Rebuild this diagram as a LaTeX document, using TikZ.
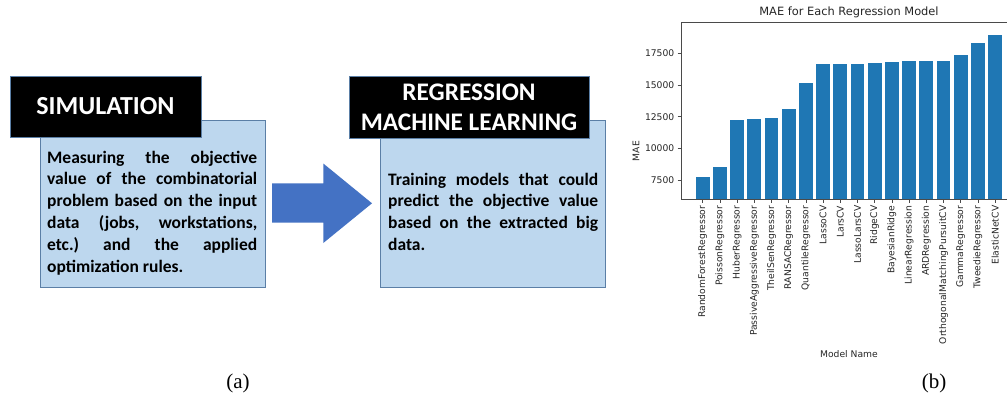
\documentclass[tikz,border=0pt]{standalone}
\usepackage{fontspec}
\setmainfont{Carlito}
\newfontfamily\mplfont{DejaVu Sans}
\newfontfamily\capfont{Liberation Serif}
\definecolor{boxfill}{HTML}{BDD7EE}
\definecolor{boxline}{HTML}{5B7FA6}
\definecolor{arrowblue}{HTML}{4472C4}
\definecolor{mplblue}{HTML}{1F77B4}
\definecolor{spine}{HTML}{4A4A4A}
\newcommand{\jline}[1]{\hbox to 210pt{\frenchspacing\spaceskip=0.25em plus 3em minus 0.05em\xspaceskip=\spaceskip\relax #1}}
\begin{document}
\begin{tikzpicture}[x=1pt,y=-1pt,
  bluebox/.style={draw=boxline, line width=0.9pt, fill=boxfill, inner sep=0pt, outer sep=0pt, anchor=north west},
  blackbox/.style={fill=black, draw=boxline, line width=0.6pt, inner sep=0pt, outer sep=0pt, anchor=north west},
  headtext/.style={text=white, font={\fontsize{26}{30}\selectfont\bfseries}, align=center, inner sep=0pt},
  bodytext/.style={font={\fontsize{17.5}{21.8}\selectfont\bfseries}, text width=210pt, align=justify, inner sep=0pt, anchor=north west},
  ticklab/.style={font={\mplfont\fontsize{9.2}{10}\selectfont}, text=black!85, inner sep=0pt},
  bar/.style={fill=mplblue},
  spinestyle/.style={draw=spine, line width=0.8pt},
  caption/.style={font={\capfont\fontsize{21}{24}\selectfont}, inner sep=0pt}
]
\useasboundingbox[fill=white] (0,0) rectangle (1007,402);

% ---- panel (a)
\node[bluebox, minimum width=225pt, minimum height=167pt] (simbox) at (40,120) {};
\node[blackbox, minimum width=191pt, minimum height=61pt] (simhead) at (10,76) {};
\node[headtext] (simtitle) at (simhead.center) {SIMULATION};
\node[bodytext] (simtext) at (47,147.7) {\strut\jline{Measuring the objective}\\
\jline{value of the combinatorial}\\
\jline{problem based on the input}\\
\jline{data (jobs, workstations,}\\
\jline{etc.) and the applied}\\
optimization rules.};

\node[bluebox, minimum width=225pt, minimum height=167pt] (regbox) at (380,120) {};
\node[blackbox, minimum width=240pt, minimum height=62pt] (reghead) at (349,76) {};
\node[headtext, font={\fontsize{25.3}{30}\selectfont\bfseries}] (regtitle) at (reghead.center) {REGRESSION\\MACHINE LEARNING};
\node[bodytext] (regtext) at (388,169.7) {\strut\jline{Training models that could}\\
\jline{predict the objective value}\\
\jline{based on the extracted big}\\
data.};

% block arrow
\coordinate (arrtail) at (272,203.3);
\coordinate (arrtip) at (372,203.3);
\fill[arrowblue] (arrtail) ++(0,-20) -- ++(51.3,0) -- ++(0,-19.8) -- (arrtip) -- (323.3,243) -- ++(0,-20.5) -- (272,222.5) -- cycle;

% ---- panel (b)
\node[font={\mplfont\fontsize{11.4}{13}\selectfont}, text=black!85, inner sep=0pt] (title) at (849,12) {MAE for Each Regression Model};
\foreach \v [count=\i from 0] in {7.70,8.50,12.24,12.34,12.39,13.08,15.18,16.63,16.63,16.63,16.76,16.82,16.87,16.92,16.92,17.40,18.32,18.95} {
  \pgfmathsetmacro\barx{702.7+17.2*\i}
  \pgfmathsetmacro\bartop{180-(\v-7.5)*12.67}
  \fill[bar] (\barx-6.88,199.3) rectangle (\barx+6.88,\bartop);
}
\draw[spinestyle] (1007,22.7) -- (681,22.7) -- (681,199.3) -- (1007,199.3);
\foreach \v/\y in {7500/180,10000/148.3,12500/116.7,15000/85,17500/53.3} {
  \draw[spinestyle] (677.5,\y) -- (681,\y);
  \node[ticklab, anchor=east] (yt\v) at (674.5,\y) {\v};
}
\foreach \n [count=\i from 0] in {RandomForestRegressor,PoissonRegressor,HuberRegressor,PassiveAggressiveRegressor,TheilSenRegressor,RANSACRegressor,QuantileRegressor,LassoCV,LarsCV,LassoLarsCV,RidgeCV,BayesianRidge,LinearRegression,ARDRegression,OrthogonalMatchingPursuitCV,GammaRegressor,TweedieRegressor,ElasticNetCV} {
  \pgfmathsetmacro\barx{702.7+17.2*\i}
  \draw[spinestyle] (\barx,199.3) -- (\barx,202.8);
  \node[ticklab, rotate=90, anchor=east] (xt\i) at (\barx,205.5) {\n};
}
\node[ticklab, rotate=90] (ylab) at (636,151) {MAE};
\node[ticklab] (xlab) at (849,354) {Model Name};

\node[caption] (capa) at (238,383) {(a)};
\node[caption] (capb) at (934,383) {(b)};
\end{tikzpicture}
\end{document}
